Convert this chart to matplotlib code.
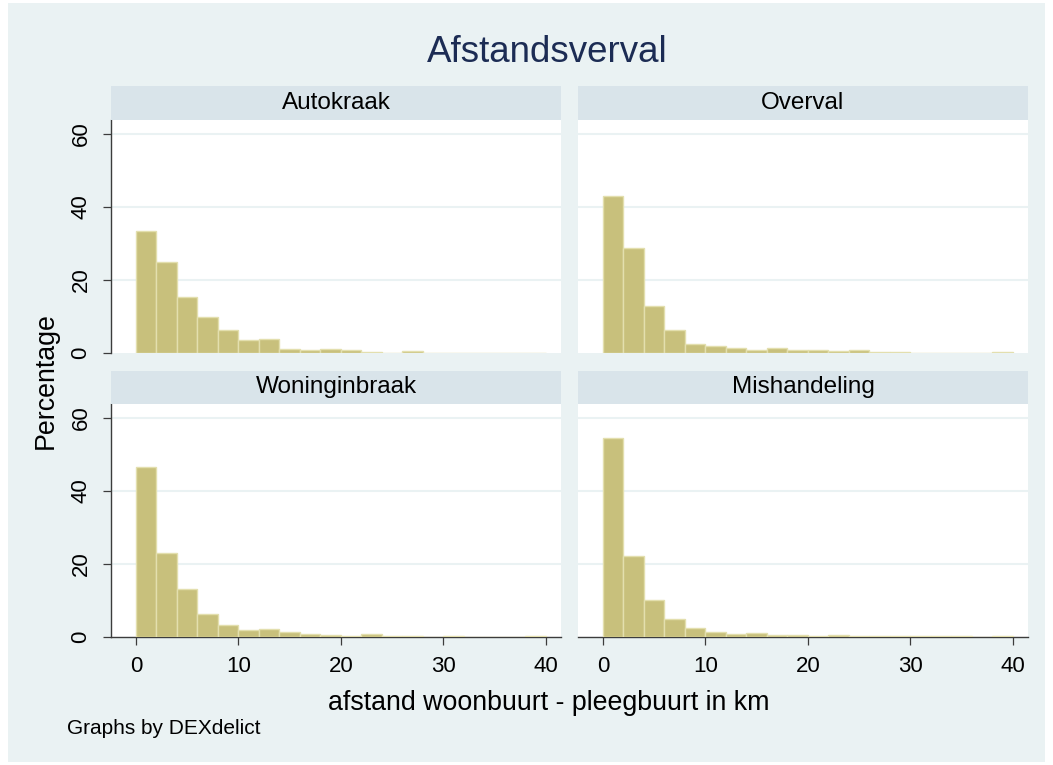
import matplotlib
matplotlib.use("Agg")
import matplotlib.pyplot as plt
from matplotlib.patches import Rectangle
import numpy as np

plt.rcParams['font.family'] = ['Liberation Sans', 'DejaVu Sans']

# histogram percentages, bins of 2 km from 0 to 40
bin_edges = np.arange(0, 40, 2)
panels = ["Autokraak", "Overval", "Woninginbraak", "Mishandeling"]
autokraak = [33.4, 24.8, 15.25, 9.9, 6.3, 3.65, 3.9, 1.2, 0.9, 1.2,
             0.9, 0.35, 0, 0.55, 0, 0, 0, 0, 0, 0]
overval = [43.1, 28.7, 13.0, 6.3, 2.5, 1.8, 1.4, 0.8, 1.3, 0.7,
           0.7, 0.55, 0.7, 0.35, 0.35, 0, 0, 0, 0, 0.35]
woninginbraak = [46.6, 23.1, 13.2, 6.4, 3.4, 1.9, 2.3, 1.5, 0.7, 0.55,
                 0.35, 0.7, 0.35, 0.2, 0, 0.15, 0, 0, 0, 0.15]
mishandeling = [54.4, 22.3, 10.1, 4.9, 2.4, 1.4, 0.8, 1.1, 0.55, 0.65,
                0.35, 0.65, 0.15, 0.15, 0.15, 0.15, 0.15, 0.15, 0, 0.15]
values = [autokraak, overval, woninginbraak, mishandeling]
xticks = [0, 10, 20, 30, 40]
yticks = [0, 20, 40, 60]

W, H = 1053, 765
BG = "#eaf2f3"
STRIP = "#d9e4ea"
BAR = "#c8c07c"
BAREDGE = "#e3dfae"
AXC = "#3c3c3c"

fig = plt.figure(figsize=(W / 100, H / 100), dpi=100, facecolor="white")
fig.patches.append(Rectangle((8 / W, 3 / H), (W - 16) / W, (H - 6) / H,
                             transform=fig.transFigure, facecolor=BG,
                             edgecolor="none", zorder=-10))


def fx(px):
    return px / W


def fy(py):
    return 1 - py / H


cols = [(111, 561), (578, 1028)]
rows = [(86, 120, 353), (371, 404, 637)]

for i, name in enumerate(panels):
    r, c = divmod(i, 2)
    x0, x1 = cols[c]
    s0, p0, p1 = rows[r]
    ax = fig.add_axes([fx(x0), fy(p1), fx(x1 - x0), (p1 - p0) / H])
    ax.set_facecolor("white")
    ax.bar(bin_edges, values[i], width=2, align="edge", color=BAR,
           edgecolor=BAREDGE, linewidth=1.0, zorder=3)
    ax.set_xlim(-2.44, 41.5)
    ax.set_ylim(0, 63.8)
    for g in [20, 40, 60]:
        ax.axhline(g, color=BG, linewidth=1.5, zorder=1)
    for s in ax.spines.values():
        s.set_visible(False)
    ax.tick_params(length=6, width=0.9, color=AXC, labelsize=16,
                   pad=8, labelcolor="black")
    if c == 0:
        ax.spines["left"].set_visible(True)
        ax.spines["left"].set_color(AXC)
        ax.spines["left"].set_linewidth(1.0)
        ax.set_yticks(yticks)
        ax.set_yticklabels([str(v) for v in yticks], rotation=90, va="center")
    else:
        ax.set_yticks([])
    if r == 1:
        ax.spines["bottom"].set_visible(True)
        ax.spines["bottom"].set_color(AXC)
        ax.spines["bottom"].set_linewidth(1.0)
        ax.set_xticks(xticks)
    else:
        ax.set_xticks([])
    # strip header
    sax = fig.add_axes([fx(x0), fy(p0), fx(x1 - x0), (p0 - s0) / H])
    sax.set_facecolor(STRIP)
    sax.set_xticks([])
    sax.set_yticks([])
    for s in sax.spines.values():
        s.set_visible(False)
    sax.text(0.5, 0.5, name, ha="center", va="center", fontsize=17.5,
             transform=sax.transAxes)

fig.text(fx(547.5), fy(52), "Afstandsverval", ha="center", va="center",
         fontsize=26.5, color="#1c2c54")
fig.text(fx(548.5), fy(703), "afstand woonbuurt - pleegbuurt in km",
         ha="center", va="center", fontsize=19.3)
fig.text(fx(46), fy(381), "Percentage", ha="center", va="center",
         rotation=90, fontsize=19.3)
fig.text(fx(67), fy(728), "Graphs by DEXdelict", ha="left", va="center",
         fontsize=15)

fig.savefig("out.png", dpi=100, facecolor="white")
